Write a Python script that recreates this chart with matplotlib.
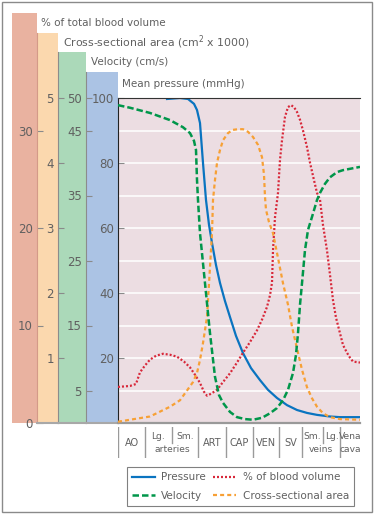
import matplotlib
matplotlib.use("Agg")
import matplotlib.pyplot as plt
from matplotlib.patches import Rectangle

W, H = 374, 514

# vessel position along the circulation (arbitrary units, 0 = aorta start)
seg_edges = [0, 27, 54, 80, 108, 135, 161, 184, 205, 222, 242]

# mean pressure, mmHg
pressure_x = [49, 62, 70, 76, 79, 82, 85, 88, 91, 94, 98, 102, 107, 112, 118, 125,
              133, 142, 150, 159, 169, 179, 189, 199, 212, 222, 242]
pressure = [99.7, 100, 99.7, 98.2, 96.3, 92.3, 80, 68.6, 61, 55.4, 48.6, 43.1, 37.5,
            32.6, 26.8, 21.5, 16.9, 13.2, 10.2, 7.7, 5.5, 4.0, 3.1, 2.5, 2.0, 1.8, 1.8]

# velocity, cm/s
velocity_x = [0, 12, 32, 52, 65, 72, 76, 78, 79, 80, 82, 87, 92, 97, 101, 105, 112,
              119, 127, 135, 144, 152, 159, 165, 170, 175, 178, 180, 182, 184, 187,
              190, 194, 199, 202, 207, 212, 219, 225, 242]
velocity = [48.9, 48.5, 47.7, 46.6, 45.5, 44.6, 43.4, 42, 37.4, 34.3, 29.2, 21.5,
            13.8, 7.1, 4.3, 3.1, 1.7, 0.9, 0.6, 0.5, 0.8, 1.5, 2.3, 3.5, 5.1, 7.7,
            10.5, 13.8, 18.2, 21.5, 26.6, 29.7, 31.7, 34.3, 35.4, 36.8, 37.8, 38.6,
            38.9, 39.4]

# cross-sectional area, cm2 x 1000
area_x = [0, 12, 32, 52, 62, 69, 75, 79, 82, 85, 89, 92, 94, 95, 97, 99, 102, 105,
          110, 115, 120, 125, 130, 135, 140, 144, 146, 147, 148, 151, 155, 160, 165,
          170, 174, 180, 184, 189, 194, 199, 205, 212, 222, 242]
area = [0.02, 0.05, 0.1, 0.25, 0.35, 0.5, 0.63, 0.77, 0.97, 1.23, 1.63, 2.4, 2.92,
        3.43, 3.74, 4.0, 4.2, 4.35, 4.46, 4.51, 4.52, 4.52, 4.48, 4.4, 4.28, 4.09,
        3.82, 3.48, 3.28, 3.09, 2.92, 2.54, 2.15, 1.82, 1.48, 1.08, 0.82, 0.55, 0.38,
        0.25, 0.15, 0.09, 0.06, 0.05]

# % of total blood volume
volume_x = [0, 12, 18, 22, 27, 32, 38, 45, 52, 59, 66, 72, 78, 82, 86, 89, 93, 99,
            105, 112, 119, 125, 132, 139, 144, 149, 152, 154, 155, 157, 160, 162, 164,
            167, 170, 173, 176, 179, 182, 185, 189, 192, 196, 199, 202, 205, 209, 212,
            215, 218, 222, 225, 229, 232, 235, 242]
volume = [3.7, 3.8, 4.0, 5.2, 5.9, 6.5, 6.9, 7.1, 7.0, 6.8, 6.3, 5.7, 4.8, 4.1, 3.2,
          2.8, 3.0, 3.4, 4.2, 5.1, 6.2, 7.2, 8.3, 9.5, 10.6, 11.9, 13.1, 14.4, 17.7,
          21.1, 23.6, 27.0, 29.0, 31.4, 32.4, 32.6, 32.4, 31.9, 31.1, 30.0, 28.3, 26.7,
          24.9, 23.6, 22.9, 20.3, 17.7, 15.2, 12.6, 10.8, 9.2, 8.0, 7.2, 6.7, 6.3, 6.2]

# category strip under the plot
cat_single = [("AO", 13.5), ("ART", 94), ("CAP", 121.5), ("VEN", 148), ("SV", 172.5)]
cat_top = [("Lg.", 40.5), ("Sm.", 67), ("Sm.", 194.5), ("Lg.", 213.5), ("Vena", 232.5)]
cat_bottom = [("arteries", 54), ("veins", 203), ("cava", 232.5)]
short_seps = [54, 205]

vol_ticks = [0, 10, 20, 30]
area_ticks = [1, 2, 3, 4, 5]
vel_ticks = [5, 15, 25, 35, 45, 50]
p_ticks = [20, 40, 60, 80, 100]

c_vol, c_area, c_vel, c_p = "#e9b2a0", "#fbd8ae", "#abd9b9", "#abc3e4"
bg = "#ecdde2"
txt = "#606060"
tk = "#8a8a8a"


def box(x0, y0, x1, y1):
    return [x0 / W, 1 - y1 / H, (x1 - x0) / W, (y1 - y0) / H]


plt.rcParams['font.family'] = ['DejaVu Sans']
fig = plt.figure(figsize=(W / 100, H / 100), dpi=100)

# coloured scale bars, each carries the ticks of the bar to its left
bar_vol = fig.add_axes(box(12, 13, 37, 423))
bar_area = fig.add_axes(box(37, 33, 58, 423))
bar_vel = fig.add_axes(box(58, 52, 86, 423))
bar_p = fig.add_axes(box(86, 72, 118, 423))

bar_vol.set_facecolor(c_vol)
bar_vol.set_xticks([])
bar_vol.set_yticks([])
for s in bar_vol.spines.values():
    s.set_visible(False)

for a, col, ylim, ticks in [(bar_area, c_area, 390 / 9.75, vol_ticks),
                            (bar_vel, c_vel, 371 / 65, area_ticks),
                            (bar_p, c_p, 351 / 6.5, vel_ticks)]:
    a.set_facecolor(col)
    a.set_ylim(0, ylim)
    a.set_xlim(0, 1)
    a.set_xticks([])
    a.set_yticks(ticks)
    a.tick_params(axis='y', direction='in', length=4, width=0.8, color=tk,
                  labelcolor=txt, labelsize=8.5, pad=3)
    a.spines['top'].set_visible(False)
    a.spines['right'].set_visible(False)
    a.spines['left'].set_color('#8c8c8c')
    a.spines['left'].set_linewidth(0.8)
    a.spines['bottom'].set_color('#a8a8a8')
    a.spines['bottom'].set_linewidth(1.5)
bar_area.spines['left'].set_color('#d49a88')

# main panel
ax = fig.add_axes(box(118, 98, 360, 423))
ax.set_facecolor(bg)
ax.set_xlim(seg_edges[0], seg_edges[-1])
ax.set_ylim(0, 100)
ax.set_xticks([])
ax.set_yticks(p_ticks)
ax.set_yticks(range(10, 100, 10), minor=True)
ax.tick_params(axis='y', which='major', direction='in', length=4, width=0.8,
               color=tk, labelcolor=txt, labelsize=8.5, pad=3)
ax.tick_params(axis='y', which='minor', length=0)
ax.grid(True, which='both', axis='y', color='white', lw=1.1)
ax.set_axisbelow(True)
ax.spines['right'].set_visible(False)
ax.spines['left'].set_color('#222222')
ax.spines['top'].set_color('#333333')
ax.spines['bottom'].set_color('#999999')
ax.spines['bottom'].set_linewidth(1.6)

ax_vol = ax.twinx()
ax_area = ax.twinx()
ax_vel = ax.twinx()
for a, top in [(ax_vol, 100 / 3), (ax_area, 5), (ax_vel, 50)]:
    a.set_ylim(0, top)
    a.axis('off')

l_vol, = ax_vol.plot(volume_x, volume, color="#d8283a", lw=1.6,
                     ls=(0, (0.9, 0.9)), label="% of blood volume")
l_area, = ax_area.plot(area_x, area, color="#f7a035", lw=1.6,
                       ls=(0, (1.8, 1.4)), label="Cross-sectional area")
l_vel, = ax_vel.plot(velocity_x, velocity, color="#00964a", lw=1.8,
                     ls=(0, (2.6, 1.2)), label="Velocity")
l_p, = ax.plot(pressure_x, pressure, color="#0a74c0", lw=1.6, label="Pressure")

# category strip
cat = fig.add_axes(box(118, 427, 360, 458))
cat.set_xlim(seg_edges[0], seg_edges[-1])
cat.set_ylim(0, 1)
cat.axis('off')
for e in seg_edges[:-1]:
    y0 = 0.5 if e in short_seps else 0
    cat.plot([e, e], [y0, 1], color='#9a9a9a', lw=1)
for name, x in cat_single:
    cat.text(x, 0.48, name, ha='center', va='center', fontsize=7, color=txt)
for name, x in cat_top:
    cat.text(x, 0.7, name, ha='center', va='center', fontsize=6.6, color=txt)
for name, x in cat_bottom:
    cat.text(x, 0.26, name, ha='center', va='center', fontsize=6.6, color=txt)

# axis titles
fig.text(41 / W, 1 - 23 / H, "% of total blood volume", fontsize=7.5, color=txt, va='center')
fig.text(63 / W, 1 - 42 / H, "Cross-sectional area (cm$^2$ x 1000)", fontsize=7.8,
         color=txt, va='center')
fig.text(91 / W, 1 - 62 / H, "Velocity (cm/s)", fontsize=7.5, color=txt, va='center')
fig.text(122 / W, 1 - 84 / H, "Mean pressure (mmHg)", fontsize=7.5, color=txt, va='center')

leg = fig.legend([l_p, l_vel, l_vol, l_area],
                 ["Pressure", "Velocity", "% of blood volume", "Cross-sectional area"],
                 ncol=2, loc='upper left', bbox_to_anchor=(127 / W, 1 - 467 / H),
                 fancybox=False, edgecolor='#808080', fontsize=7.5, handlelength=2.2,
                 handletextpad=0.6, columnspacing=0.7, labelspacing=0.8,
                 borderaxespad=0, borderpad=0.5, framealpha=1)
leg.get_frame().set_linewidth(0.8)
for t in leg.get_texts():
    t.set_color(txt)

fig.add_artist(Rectangle((2 / W, 2 / H), 370 / W, 510 / H, transform=fig.transFigure,
                         fill=False, ec='#8a8a8a', lw=1))

fig.savefig("out.png", dpi=100)
